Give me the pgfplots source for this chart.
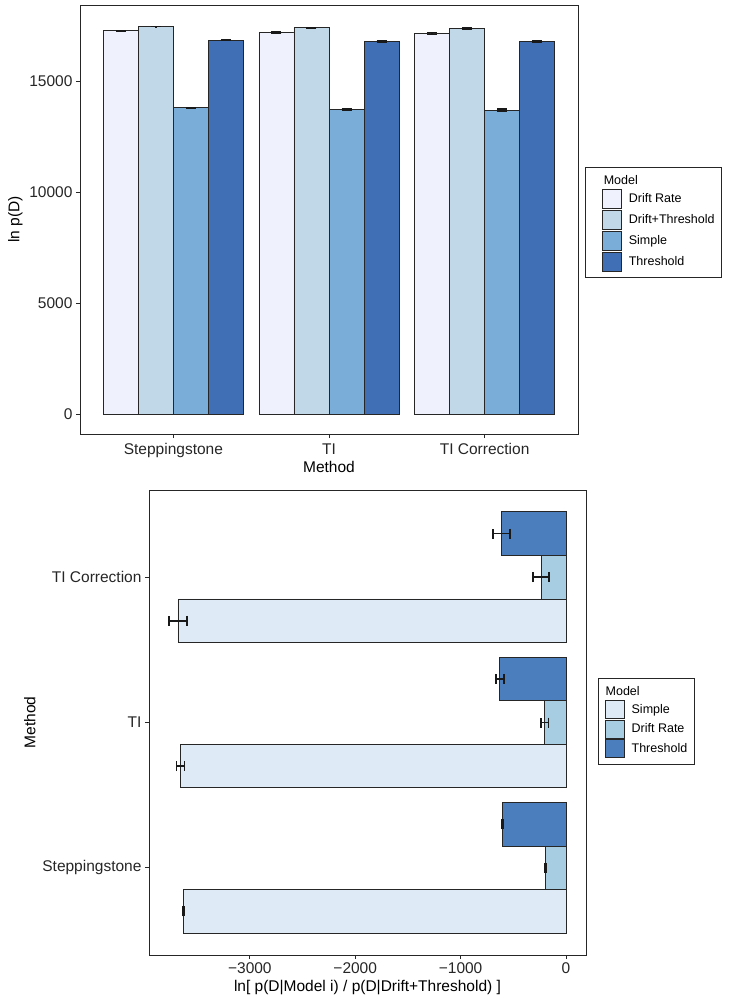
\documentclass[border=0pt]{standalone}
\usepackage{fontspec}
\setmainfont{Liberation Sans}
\usepackage{pgfplots}
\usepackage{pgfplotstable}
\pgfplotsset{compat=1.18}

\definecolor{cDR}{HTML}{EFF2FD}
\definecolor{cDT}{HTML}{C0D8E8}
\definecolor{cSI}{HTML}{7AAED8}
\definecolor{cTH}{HTML}{416FB5}
\definecolor{bSI}{HTML}{DEEAF6}
\definecolor{bDR}{HTML}{A7CDE3}
\definecolor{bTH}{HTML}{4A7EBC}

% Top panel: ln p(D) per method (x: 1 Steppingstone, 2 TI, 3 TI Correction)
\pgfplotstableread{
x dr dre dt dte si sie th the
1 17265 5 17458 5 13805 5 16849 5
2 17189 25 17399 20 13729 20 16786 15
3 17144 50 17386 40 13697 45 16773 35
}\toptab

% Bottom panel: ln Bayes factor vs Drift+Threshold
\pgfplotstableread{
y si sie dr dre th the
1 -3628 5 -193 5 -605 5
2 -3659 38 -200 35 -627 38
3 -3682 87 -237 78 -611 82
}\bottab

\pgfplotsset{
  myaxis/.style={
    scale only axis,
    tick align=outside,
    tick pos=left,
    major tick length=4pt,
    tick style={black!85, line width=0.8pt},
    axis line style={black!85, line width=0.9pt},
    ticklabel style={font=\fontsize{15.5}{18}\selectfont, text=black!85},
    label style={font=\fontsize{15.5}{18}\selectfont},
    legend style={draw=black!85, line width=0.8pt, font=\fontsize{12.5}{15}\selectfont,
      cells={anchor=west}, row sep=1pt, inner xsep=5pt, inner ysep=6pt},
    error bars/error bar style={line width=1.5pt, black!90},
    error bars/error mark=|,
    error bars/error mark options={line width=1.5pt, black!90, mark size=5pt},
  },
  keyimgA/.style={legend image code/.code={\draw[##1, line width=0.8pt, draw=black!85] (12pt,-9.5pt) rectangle (31pt,9.5pt); \path (36pt,0pt);}},
  keyimgB/.style={legend image code/.code={\draw[##1, line width=0.8pt, draw=black!85] (2pt,-9pt) rectangle (21pt,9pt); \path (26pt,0pt);}},
  barstyle/.style={draw=black!85, line width=0.9pt},
}

\begin{document}
\begin{tikzpicture}
\path[use as bounding box] (0,0) rectangle (728pt,-1000pt);

\begin{axis}[myaxis,
  at={(80pt,-434pt)}, anchor=south west,
  width=498pt, height=429pt,
  ybar, keyimgA,
  bar width=0.225,
  xmin=0.4, xmax=3.6, ymin=-878, ymax=18430,
  xtick={1,2,3}, xticklabels={Steppingstone,TI,TI Correction},
  ytick={0,5000,10000,15000}, yticklabels={0,5000,10000,15000},
  xticklabel style={yshift=-2pt},
  xlabel={Method}, ylabel={ln p(D)},
  xlabel style={yshift=4pt},
  legend style={at={(1.014,0.622)}, anchor=north west},
]
\addlegendimage{empty legend}
\addlegendentry{\hspace*{-25pt}Model\rule[-3pt]{0pt}{3pt}}
\addplot[barstyle, fill=cDR, bar shift=-0.3375, error bars/.cd, y dir=both, y explicit]
  table[x=x, y=dr, y error=dre] {\toptab};
\addlegendentry{Drift Rate}
\addplot[barstyle, fill=cDT, bar shift=-0.1125, error bars/.cd, y dir=both, y explicit]
  table[x=x, y=dt, y error=dte] {\toptab};
\addlegendentry{Drift+Threshold}
\addplot[barstyle, fill=cSI, bar shift=0.1125, error bars/.cd, y dir=both, y explicit]
  table[x=x, y=si, y error=sie] {\toptab};
\addlegendentry{Simple}
\addplot[barstyle, fill=cTH, bar shift=0.3375, error bars/.cd, y dir=both, y explicit]
  table[x=x, y=th, y error=the] {\toptab};
\addlegendentry{Threshold}
\end{axis}

\begin{axis}[myaxis,
  at={(149pt,-955pt)}, anchor=south west,
  width=437pt, height=465pt,
  xbar, keyimgB,
  bar width=0.3,
  xmin=-3957, xmax=190, ymin=0.4, ymax=3.6,
  ytick={1,2,3}, yticklabels={Steppingstone,TI,TI Correction},
  xtick={-3000,-2000,-1000,0}, xticklabels={−3000,−2000,−1000,0},
  xlabel={ln[ p(D|Model i) / p(D|Drift+Threshold) ]}, ylabel={Method},
  legend style={at={(1.027,0.596)}, anchor=north west},
]
\addlegendimage{empty legend}
\addlegendentry{\hspace*{-26pt}Model\rule[-3pt]{0pt}{3pt}}
\addplot[barstyle, fill=bSI, bar shift=-0.3, error bars/.cd, x dir=both, x explicit]
  table[x=si, y=y, x error=sie] {\bottab};
\addlegendentry{Simple}
\addplot[barstyle, fill=bDR, bar shift=0, error bars/.cd, x dir=both, x explicit]
  table[x=dr, y=y, x error=dre] {\bottab};
\addlegendentry{Drift Rate}
\addplot[barstyle, fill=bTH, bar shift=0.3, error bars/.cd, x dir=both, x explicit]
  table[x=th, y=y, x error=the] {\bottab};
\addlegendentry{Threshold}
\end{axis}
\end{tikzpicture}
\end{document}
